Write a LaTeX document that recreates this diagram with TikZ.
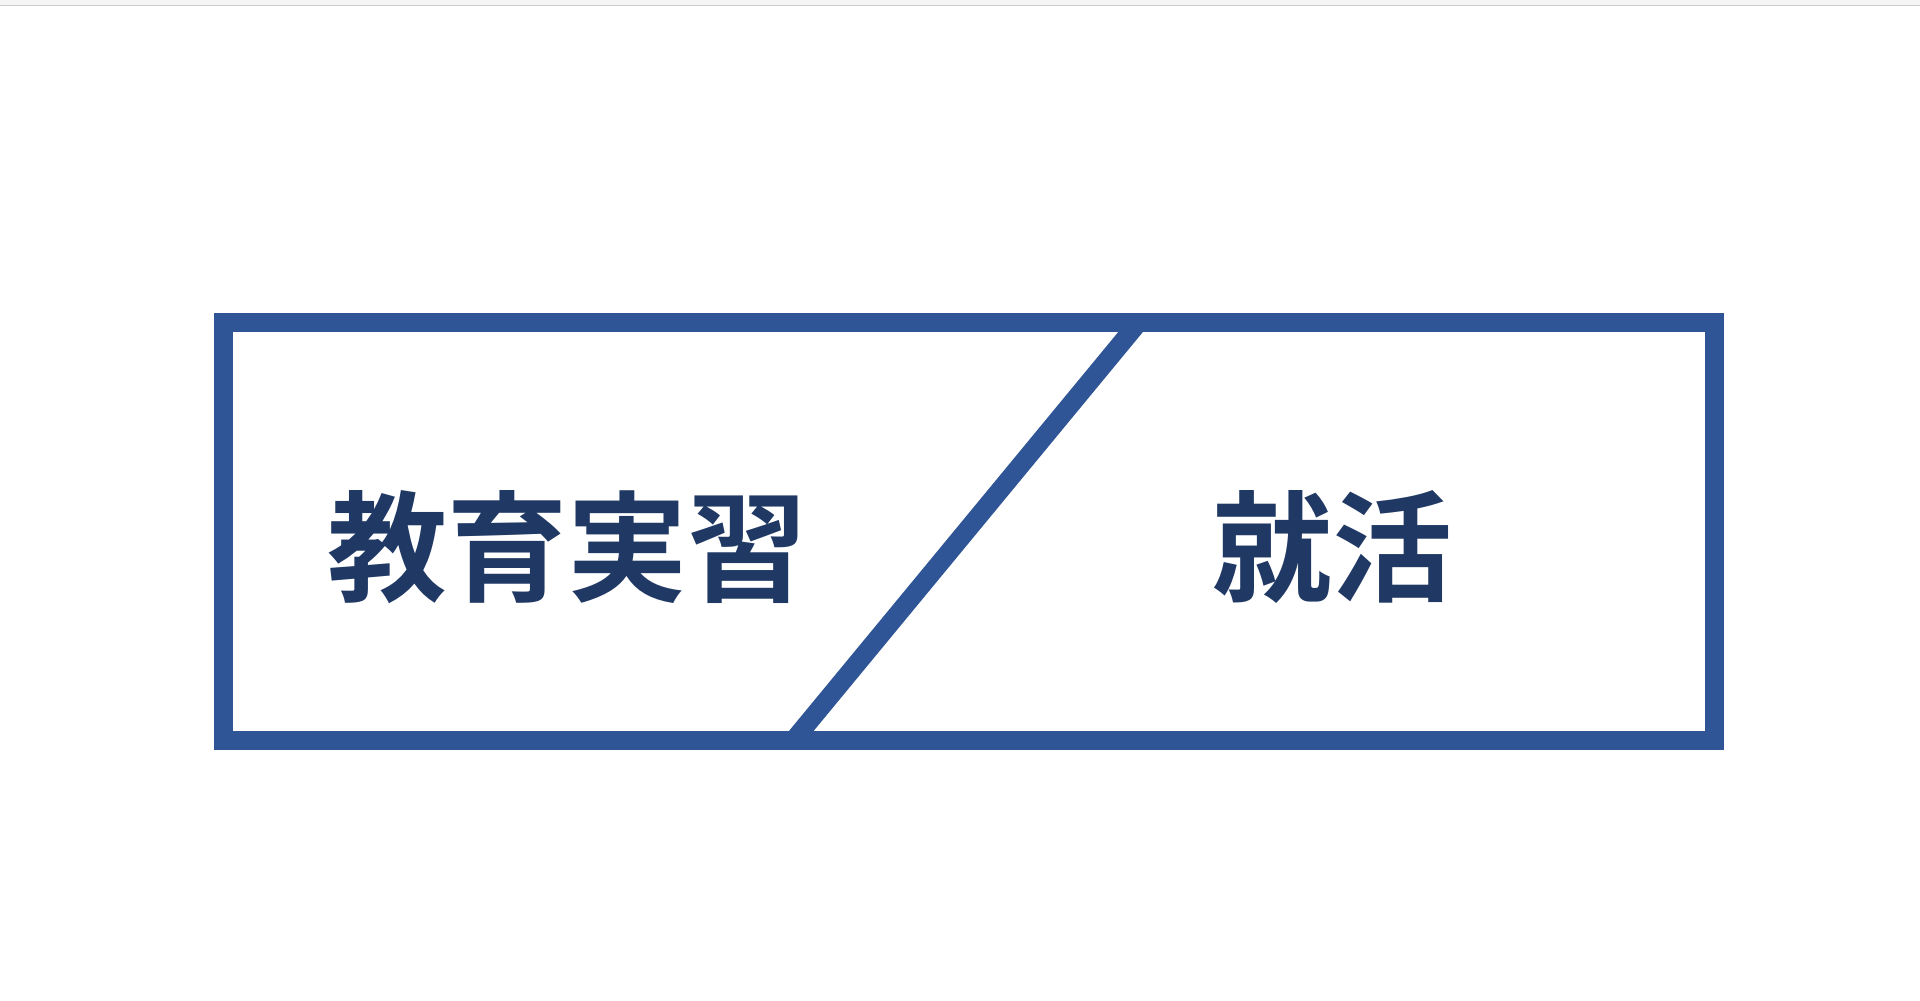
\documentclass[tikz,border=0pt]{standalone}
\usepackage{fontspec}
\newfontfamily\cjk{Noto Sans CJK JP}[BoldFont={* Bold}]
\definecolor{frameblue}{HTML}{2F5597}
\definecolor{textnavy}{HTML}{203864}
\definecolor{topband}{HTML}{F5F5F5}
\definecolor{topline}{HTML}{CCCCCC}
\tikzset{
  framebox/.style={draw=frameblue, line width=19pt, minimum width=1491pt, minimum height=418pt, inner sep=0pt, outer sep=0pt},
  divider/.style={draw=frameblue, line width=19pt},
  label/.style={text=textnavy, font=\cjk\bfseries\fontsize{120pt}{120pt}\selectfont, inner sep=0pt}
}
\begin{document}
\begin{tikzpicture}[x=1pt, y=-1pt]
\useasboundingbox (0,0) rectangle (1920,1001);
\fill[white] (0,0) rectangle (1920,1001);
\fill[topband] (0,0) rectangle (1920,5);
\draw[topline, line width=1.5pt] (0,5.5) -- (1920,5.5);
\node[framebox] (frame) at (969,531.5) {};
\coordinate (dtop) at (1138,323);
\coordinate (dbot) at (793,741);
\draw[divider] (dtop) -- (dbot);
\node[label] (left) at (567,547) {教育実習};
\node[label] (right) at (1332,547) {就活};
\end{tikzpicture}
\end{document}
